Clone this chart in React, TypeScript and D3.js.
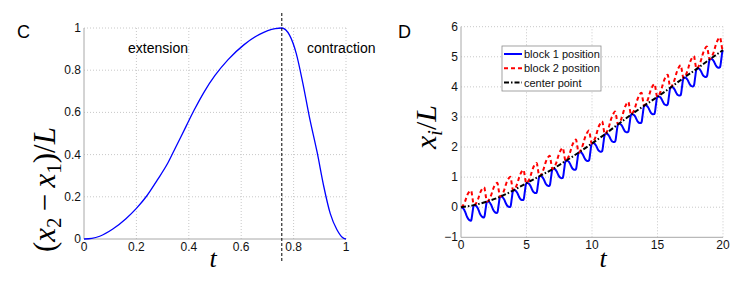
import React, { useEffect, useRef } from 'react'
import * as d3 from 'd3'

// panel C: one cycle of (x2 - x1)/L
const phaseT = [0, 0.03, 0.06, 0.11, 0.16, 0.2, 0.24, 0.28, 0.32, 0.35, 0.39, 0.42, 0.46, 0.5, 0.55, 0.61, 0.67, 0.73, 0.755, 0.785, 0.81, 0.835, 0.86, 0.89, 0.915, 0.94, 0.965, 0.99, 1]
const phaseD = [0, 0.003, 0.013, 0.047, 0.096, 0.145, 0.205, 0.28, 0.36, 0.435, 0.535, 0.61, 0.7, 0.775, 0.85, 0.92, 0.97, 0.997, 1, 0.965, 0.88, 0.74, 0.58, 0.41, 0.25, 0.12, 0.045, 0.004, 0]
const switchT = 0.755
const cTicksX = [0, 0.2, 0.4, 0.6, 0.8, 1]
const cTicksY = [0, 0.2, 0.4, 0.6, 0.8, 1]

// panel D: center point at the end of every cycle
const centerT = [0, 1, 2, 3, 4, 5, 6, 7, 8, 9, 10, 11, 12, 13, 14, 15, 16, 17, 18, 19, 20]
const centerV = [0, 0.07, 0.19, 0.35, 0.56, 0.8, 1.03, 1.27, 1.54, 1.82, 2.12, 2.43, 2.76, 3.08, 3.38, 3.67, 3.98, 4.3, 4.6, 4.92, 5.22]
const dTicksX = [0, 5, 10, 15, 20]
const dTicksY = [-1, 0, 1, 2, 3, 4, 5, 6]
const legendLabels = ['block 1 position', 'block 2 position', 'center point']

const SANS = "'Liberation Sans', Arial, sans-serif"
const SERIF = "'Liberation Serif', 'Times New Roman', serif"

const fmt = (v: number) => (v < 0 ? '\u2212' + Math.abs(v) : String(v))

function drawFrame(g: any, x: any, y: any, ticksX: number[], ticksY: number[]) {
  const [xl, xr] = x.range()
  const [yb, yt] = y.range()
  // dotted grid
  g.append('g')
    .selectAll('line')
    .data(ticksX.slice(1))
    .join('line')
    .attr('x1', (d: number) => x(d)).attr('x2', (d: number) => x(d))
    .attr('y1', yb).attr('y2', yt)
    .attr('stroke', '#c8c8c8').attr('stroke-dasharray', '1,2')
  g.append('g')
    .selectAll('line')
    .data(ticksY.slice(1))
    .join('line')
    .attr('y1', (d: number) => y(d)).attr('y2', (d: number) => y(d))
    .attr('x1', xl).attr('x2', xr)
    .attr('stroke', '#c8c8c8').attr('stroke-dasharray', '1,2')
  // axes (left + bottom only)
  g.append('line').attr('x1', xl).attr('x2', xl).attr('y1', yb).attr('y2', yt).attr('stroke', '#a8a8a8')
  g.append('line').attr('x1', xl).attr('x2', xr).attr('y1', yb).attr('y2', yb).attr('stroke', '#a8a8a8')
  // tick labels
  g.append('g')
    .selectAll('text')
    .data(ticksX)
    .join('text')
    .attr('x', (d: number) => x(d)).attr('y', yb + 12)
    .attr('text-anchor', 'middle')
    .style('font', `12px ${SANS}`).attr('fill', '#111')
    .text(fmt)
  g.append('g')
    .selectAll('text')
    .data(ticksY)
    .join('text')
    .attr('x', xl - 3).attr('y', (d: number) => y(d) + 4)
    .attr('text-anchor', 'end')
    .style('font', `12px ${SANS}`).attr('fill', '#111')
    .text(fmt)
}

const App = () => {
  const ref = useRef<SVGSVGElement>(null)

  useEffect(() => {
    const svg = d3.select(ref.current)
    svg.selectAll('*').remove()

    // ---------- panel C ----------
    const xC = d3.scaleLinear().domain([0, 1]).range([84, 346])
    const yC = d3.scaleLinear().domain([0, 1]).range([239, 28])
    const gC = svg.append('g')
    drawFrame(gC, xC, yC, cTicksX, cTicksY)

    const lineC = d3.line<number>()
      .x((d, i) => xC(phaseT[i]))
      .y(d => yC(d))
      .curve(d3.curveMonotoneX)
    gC.append('path').attr('d', lineC(phaseD))
      .attr('fill', 'none').attr('stroke', '#0000ff').attr('stroke-width', 1.3)

    gC.append('line')
      .attr('x1', xC(switchT)).attr('x2', xC(switchT))
      .attr('y1', 13).attr('y2', 263)
      .attr('stroke', '#000').attr('stroke-dasharray', '3,2')

    gC.append('text').attr('x', 158).attr('y', 53).attr('text-anchor', 'middle')
      .style('font', `14px ${SANS}`).text('extension')
    gC.append('text').attr('x', 307).attr('y', 53)
      .style('font', `14px ${SANS}`).text('contraction')
    gC.append('text').attr('x', 17).attr('y', 38)
      .style('font', `18px ${SANS}`).text('C')

    // y label, starts at the bottom and reads upwards
    const labC = gC.append('text')
      .attr('transform', 'translate(55,252) rotate(-90)')
      .style('font-family', SERIF).style('font-size', '31px')
    labC.append('tspan').text('(')
    labC.append('tspan').style('font-style', 'italic').text('x')
    labC.append('tspan').attr('dy', 6).style('font-size', '21px').text('2')
    labC.append('tspan').attr('dy', -6).text('\u2009\u2212\u2009')
    labC.append('tspan').style('font-style', 'italic').text('x')
    labC.append('tspan').attr('dy', 6).style('font-size', '21px').text('1')
    labC.append('tspan').attr('dy', -6).text(')/')
    labC.append('tspan').style('font-style', 'italic').text('L')

    gC.append('text').attr('x', 213).attr('y', 267).attr('text-anchor', 'middle')
      .style('font', `italic 26px ${SERIF}`).text('t')

    // ---------- panel D ----------
    const xD = d3.scaleLinear().domain([0, 20]).range([461, 723])
    const yD = d3.scaleLinear().domain([-1, 6]).range([237.3, 26.7])
    const gD = svg.append('g')
    drawFrame(gD, xD, yD, dTicksX, dTicksY)

    // block positions = center -/+ half the separation of panel C
    const center = d3.scaleLinear().domain(centerT).range(centerV)
    const blocks: { t: number; b1: number; b2: number }[] = []
    centerT.slice(0, -1).forEach((k, ki) => {
      phaseT.forEach((p, i) => {
        if (ki > 0 && i === 0) return
        const t = k + p
        const c = center(t)
        blocks.push({ t, b1: c - phaseD[i] / 2, b2: c + phaseD[i] / 2 })
      })
    })

    const lineB1 = d3.line<any>().x(d => xD(d.t)).y(d => yD(d.b1)).curve(d3.curveMonotoneX)
    const lineB2 = d3.line<any>().x(d => xD(d.t)).y(d => yD(d.b2)).curve(d3.curveMonotoneX)
    const lineCt = d3.line<number>().x((d, i) => xD(centerT[i])).y(d => yD(d)).curve(d3.curveMonotoneX)

    gD.append('path').attr('d', lineB1(blocks))
      .attr('fill', 'none').attr('stroke', '#0000ff').attr('stroke-width', 2)
    gD.append('path').attr('d', lineB2(blocks))
      .attr('fill', 'none').attr('stroke', '#ff0000').attr('stroke-width', 2)
      .attr('stroke-dasharray', '4,3')
    gD.append('path').attr('d', lineCt(centerV))
      .attr('fill', 'none').attr('stroke', '#000').attr('stroke-width', 2)
      .attr('stroke-dasharray', '5,2,1.5,2')

    // legend
    const styles = [
      { c: '#0000ff', dash: null },
      { c: '#ff0000', dash: '4,3' },
      { c: '#000', dash: '5,2,1.5,2' },
    ]
    const lg = gD.append('g')
    lg.append('rect').attr('x', 502).attr('y', 46).attr('width', 99).attr('height', 45)
      .attr('fill', '#fff').attr('stroke', '#8c8c8c').attr('stroke-width', 0.8)
    const rows = lg.selectAll('g.row').data(legendLabels).join('g')
      .attr('transform', (d, i) => `translate(0,${54 + i * 14.3})`)
    rows.append('line').attr('x1', 504).attr('x2', 522).attr('y1', 0).attr('y2', 0)
      .attr('stroke', (d, i) => styles[i].c).attr('stroke-width', 2)
      .attr('stroke-dasharray', (d, i) => styles[i].dash)
    rows.append('text').attr('x', 524).attr('y', 4)
      .style('font', `11px ${SANS}`).attr('fill', '#111')
      .text(d => d)

    gD.append('text').attr('x', 398).attr('y', 38)
      .style('font', `18px ${SANS}`).text('D')

    const labD = gD.append('text')
      .attr('transform', 'translate(436,127) rotate(-90)')
      .attr('text-anchor', 'middle')
      .style('font-family', SERIF).style('font-size', '30px')
    labD.append('tspan').style('font-style', 'italic').text('x')
    labD.append('tspan').attr('dy', 6).style('font-size', '20px').style('font-style', 'italic').text('i')
    labD.append('tspan').attr('dy', -6).text('/')
    labD.append('tspan').style('font-style', 'italic').text('L')

    gD.append('text').attr('x', 603).attr('y', 267).attr('text-anchor', 'middle')
      .style('font', `italic 26px ${SERIF}`).text('t')
  }, [])

  return (
    <svg ref={ref} width={747} height={287}
      style={{ position: 'absolute', left: 0, top: 0, background: '#fff' }} />
  )
}

export default App
